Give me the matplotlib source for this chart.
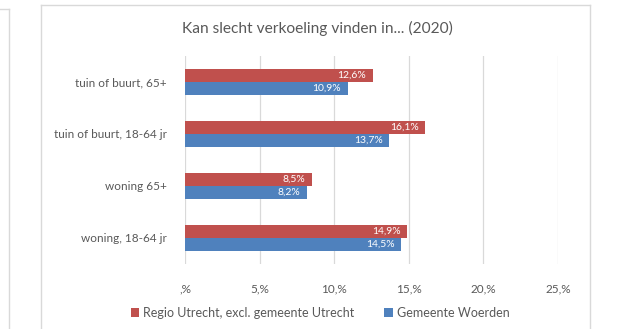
import matplotlib
matplotlib.use("Agg")
import matplotlib.pyplot as plt
from matplotlib.lines import Line2D

categories = ["tuin of buurt, 65+", "tuin of buurt, 18-64 jr", "woning 65+", "woning, 18-64 jr"]
regio_utrecht = [12.6, 16.1, 8.5, 14.9]
woerden = [10.9, 13.7, 8.2, 14.5]
series_names = ["Regio Utrecht, excl. gemeente Utrecht", "Gemeente Woerden"]
xticks = [0, 5, 10, 15, 20, 25]
xtick_labels = [",%", "5,%", "10,%", "15,%", "20,%", "25,%"]
title = "Kan slecht verkoeling vinden in... (2020)"

RED = "#C0504D"
BLUE = "#4F81BD"
GREY = "#595959"
GRID = "#D9D9D9"
FONT = ["Lato", "DejaVu Sans"]

W, H = 633, 329
fig = plt.figure(figsize=(W / 100, H / 100), dpi=100)
fig.patch.set_facecolor("white")

def px(x0, y0, x1, y1):
    return Line2D([x0 / W, x1 / W], [1 - y0 / H, 1 - y1 / H], transform=fig.transFigure,
                  color=GRID, lw=1.0)

# frames
fig.add_artist(px(9, 9, 9, H))
fig.add_artist(px(0, 9, 9, 9))
fig.add_artist(px(41, 5, 590, 5))
fig.add_artist(px(41, 5, 41, H))
fig.add_artist(px(590, 5, 590, H))

left, right = 185 / W, 558 / W
top, bottom = 1 - 56 / H, 1 - 264 / H
ax = fig.add_axes([left, bottom, right - left, top - bottom])

bh = 0.25
ys = list(range(len(categories)))
ax.barh([y - bh / 2 for y in ys], regio_utrecht, height=bh, color=RED, label=series_names[0], zorder=3)
ax.barh([y + bh / 2 for y in ys], woerden, height=bh, color=BLUE, label=series_names[1], zorder=3)

for y, v in zip(ys, regio_utrecht):
    ax.text(v - 0.45, y - bh / 2, f"{v:.1f}%".replace(".", ","), ha="right", va="center",
            color="white", fontsize=7.5, family=FONT, zorder=4)
for y, v in zip(ys, woerden):
    ax.text(v - 0.45, y + bh / 2, f"{v:.1f}%".replace(".", ","), ha="right", va="center",
            color="white", fontsize=7.5, family=FONT, zorder=4)

ax.set_xlim(0, 25)
ax.set_ylim(len(categories) - 0.5, -0.5)
ax.set_yticks(ys)
ax.set_yticklabels(categories, family=FONT, fontsize=8.5, color=GREY)
ax.set_xticks(xticks)
ax.set_xticklabels(xtick_labels, family=FONT, fontsize=8.5, color=GREY)
ax.tick_params(axis="both", length=0)
ax.tick_params(axis="x", pad=14)
ax.tick_params(axis="y", pad=13)
for s in ax.spines.values():
    s.set_visible(False)
ax.grid(axis="x", color=GRID, lw=0.9, zorder=0)
ax.set_axisbelow(True)

fig.text(317 / W, 1 - 28 / H, title, ha="center", va="center", family=FONT, fontsize=11.2, color=GREY)

leg = fig.legend(loc="center", bbox_to_anchor=(320 / W, 1 - 313 / H), ncol=2, frameon=False,
                 prop={"family": FONT, "size": 9}, handlelength=0.7, handleheight=0.7,
                 handletextpad=0.3, columnspacing=2.4)
for t in leg.get_texts():
    t.set_color(GREY)

fig.savefig("out.png", dpi=100, facecolor="white")
